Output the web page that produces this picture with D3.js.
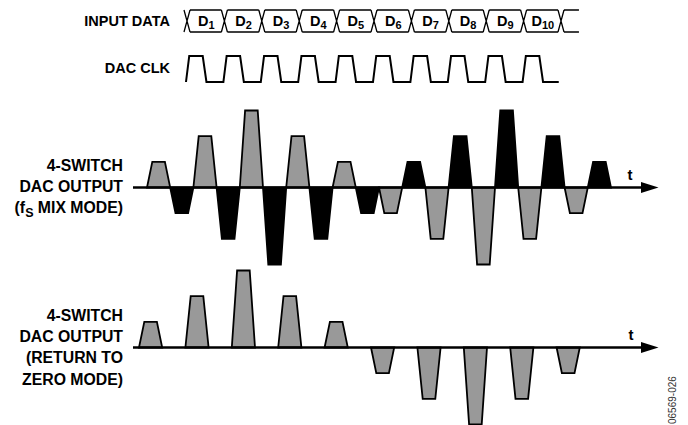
<!DOCTYPE html>
<html><head><meta charset="utf-8">
<script src="https://cdn.jsdelivr.net/npm/d3@7"></script>
<style>
body{margin:0;background:#fff}
svg{display:block}
text{font-family:"Liberation Sans",Arial,Helvetica,sans-serif;font-weight:bold;fill:#000}
</style>
</head><body>
<svg id="c" width="688" height="425"></svg>
<script>
// ---- data ----
const dataSubscripts = ["1","2","3","4","5","6","7","8","9","10"];
const dataValues = [1, 2, 3, 2, 1, -1, -2, -3, -2, -1];   // sample amplitude levels
const mixLabel = ["4-SWITCH", "DAC OUTPUT"];
const rzLabel = ["4-SWITCH", "DAC OUTPUT", "(RETURN TO", "ZERO MODE)"];
const figureId = "06569-026";

const svg = d3.select("#c");
svg.append("rect").attr("width",688).attr("height",425).attr("fill","#fff");

const n = dataValues.length;

// ---- scales ----
const busX = d3.scaleLinear().domain([0, n]).range([187, 561]);
const busY = d3.scaleLinear().domain([0, 1]).range([32, 10]);
const clkY = d3.scaleLinear().domain([0, 1]).range([82, 56]);
const mixX = d3.scaleLinear().domain([0, 2*n]).range([147, 611]);
const rzX  = d3.scaleLinear().domain([0, 2*n]).range([139, 603]);
const mixAxisY = 187.5, rzAxisY = 347.5;
const yMix = d3.scaleLinear().domain([-3, 3]).range([mixAxisY + 77, mixAxisY - 77]);
const yRz  = d3.scaleLinear().domain([-3, 3]).range([rzAxisY + 77, rzAxisY - 77]);

// ---- INPUT DATA bus ----
svg.append("text").attr("x",170).attr("y",26).attr("text-anchor","end")
  .style("font-size","14.5px").text("INPUT DATA");
const g = 3;
const busPath = d3.path();
const yt = busY(1), yb = busY(0), ym = busY(0.5);
for (let i = 0; i <= n; i++) {
  const cx = busX(i);
  busPath.moveTo(cx - g, yt); busPath.lineTo(cx, ym); busPath.lineTo(cx - g, yb);
  busPath.moveTo(cx + g, yt); busPath.lineTo(cx, ym); busPath.lineTo(cx + g, yb);
  const xEnd = i < n ? busX(i + 1) - g : busX(n + 0.48);
  busPath.moveTo(cx + g, yt); busPath.lineTo(xEnd, yt);
  busPath.moveTo(cx + g, yb); busPath.lineTo(xEnd, yb);
}
svg.append("path").attr("d", busPath.toString()).attr("fill","none")
  .attr("stroke","#000").attr("stroke-width",1.3);

dataSubscripts.forEach((s, i) => {
  const t = svg.append("text").attr("x", (busX(i) + busX(i+1)) / 2 + 0.5).attr("y", 26)
    .attr("text-anchor","middle").style("font-size","14.5px");
  t.append("tspan").text("D");
  t.append("tspan").attr("dy", 3).style("font-size","11px").text(s);
});

// ---- DAC CLK ----
svg.append("text").attr("x",170).attr("y",73).attr("text-anchor","end")
  .style("font-size","14.5px").text("DAC CLK");
const clk = [];
for (let i = 0; i < n; i++) {
  clk.push([busX(i - 0.027), clkY(0)]);
  clk.push([busX(i + 0.06), clkY(1)]);
  clk.push([busX(i + 0.42), clkY(1)]);
  clk.push([busX(i + 0.52), clkY(0)]);
}
clk.push([busX(n - 0.06), clkY(0)]);
svg.append("path").attr("d", d3.line()(clk)).attr("fill","none")
  .attr("stroke","#000").attr("stroke-width",2).attr("stroke-linejoin","miter");

// ---- pulse helper ----
const inset = 5.3;
function trap(xs, y, k, v) {
  const x0 = xs(k), x1 = xs(k + 1), y0 = y(0), y1 = y(v);
  return d3.line()([[x0, y0], [x0 + inset, y1], [x1 - inset, y1], [x1, y0]]) + "Z";
}
function axis(y0) {
  svg.append("line").attr("x1",133).attr("x2",645).attr("y1",y0).attr("y2",y0)
    .attr("stroke","#000").attr("stroke-width",2.6);
  svg.append("path").attr("d", d3.line()([[641, y0 - 5.5], [658.5, y0], [641, y0 + 5.5]]) + "Z")
    .attr("fill","#000");
}

// ---- fS mix mode ----
const mixG = svg.append("g");
dataValues.forEach((v, i) => {
  mixG.append("path").attr("d", trap(mixX, yMix, 2*i, v))
    .attr("fill","#999").attr("stroke","#000").attr("stroke-width",1.8);
  mixG.append("path").attr("d", trap(mixX, yMix, 2*i + 1, -v))
    .attr("fill","#000").attr("stroke","#000").attr("stroke-width",1.8);
});
axis(mixAxisY);
svg.append("text").attr("x",630).attr("y",180).attr("text-anchor","middle")
  .style("font-size","15px").text("t");

const lblSize = "15.8px";
mixLabel.forEach((s, i) => {
  svg.append("text").attr("x",123).attr("y",171 + i*21).attr("text-anchor","end")
    .style("font-size",lblSize).text(s);
});
{
  const t = svg.append("text").attr("x",123).attr("y",213).attr("text-anchor","end")
    .style("font-size",lblSize);
  t.append("tspan").text("(f");
  t.append("tspan").attr("dy",3.5).style("font-size","12.5px").text("S");
  t.append("tspan").attr("dy",-3.5).text(" MIX MODE)");
}

// ---- return to zero mode ----
const rzG = svg.append("g");
dataValues.forEach((v, i) => {
  rzG.append("path").attr("d", trap(rzX, yRz, 2*i, v))
    .attr("fill","#999").attr("stroke","#000").attr("stroke-width",1.8);
});
axis(rzAxisY);
svg.append("text").attr("x",631).attr("y",340).attr("text-anchor","middle")
  .style("font-size","15px").text("t");
rzLabel.forEach((s, i) => {
  svg.append("text").attr("x",123).attr("y",321 + i*21.2).attr("text-anchor","end")
    .style("font-size",lblSize).text(s);
});

// ---- figure id ----
svg.append("text").attr("transform","translate(676,424) rotate(-90)")
  .style("font-size","10px").style("font-weight","normal").style("fill","#333")
  .text(figureId);
</script>
</body></html>
